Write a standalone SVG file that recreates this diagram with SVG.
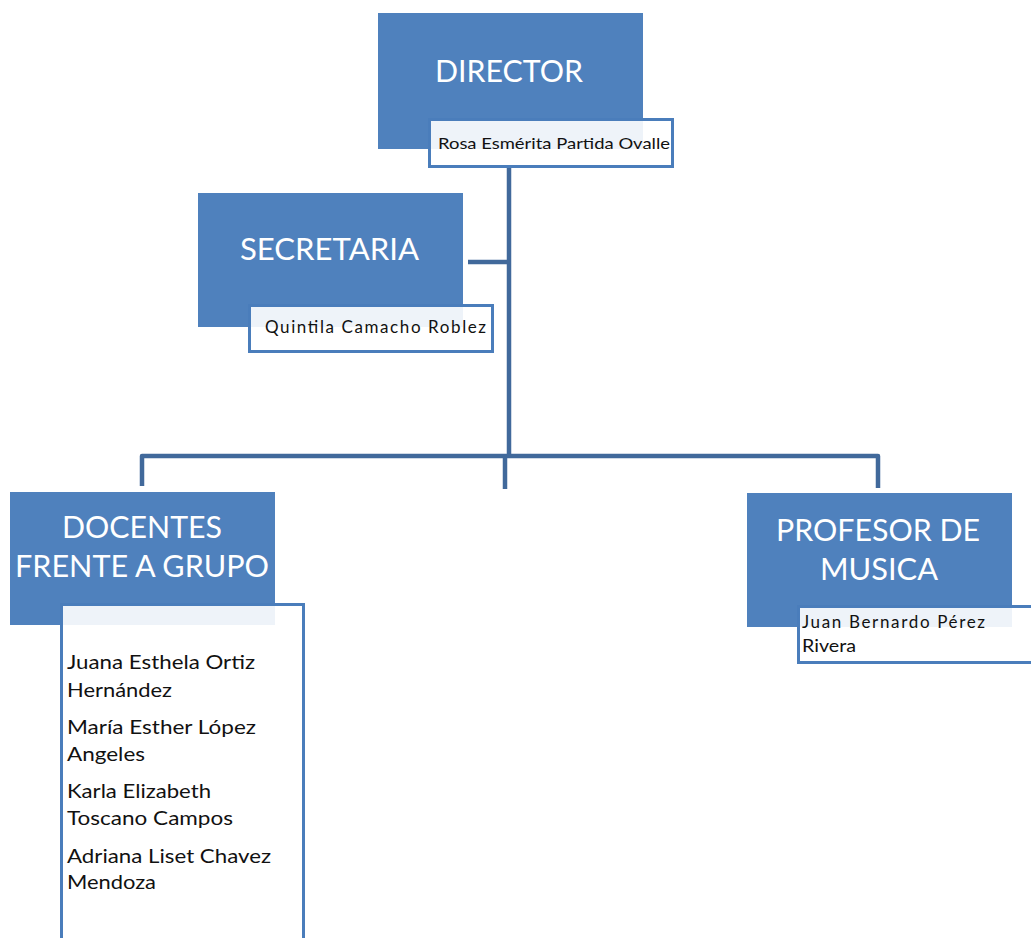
<svg xmlns="http://www.w3.org/2000/svg" width="1031" height="938" viewBox="0 0 1031 938">
<style>
.box{fill:#4f81bd;}
.sub{fill:#ffffff;fill-opacity:0.9;stroke:#4a7dbb;stroke-width:3;}
.title{font-family:Lato,"Open Sans",sans-serif;fill:#ffffff;font-size:31px;}
.name{font-family:Lato,"Open Sans",sans-serif;fill:#111111;}
.conn{fill:none;stroke:#41699b;stroke-width:4.5;stroke-linejoin:round;}
</style>
<rect width="1031" height="938" fill="#ffffff"/>
<g id="connectors">
<path class="conn" d="M509,167 V456"/>
<path class="conn" d="M468,262 H509"/>
<path class="conn" d="M142,486 V456 H878 V488"/>
<path class="conn" d="M505,456 V489"/>
</g>
<g id="director">
<rect class="box" x="378" y="13" width="265" height="136"/>
<text class="title" x="435" y="82" textLength="148" lengthAdjust="spacingAndGlyphs">DIRECTOR</text>
<rect class="sub" x="429.5" y="119.5" width="243" height="47"/>
<text class="name" x="438" y="149" font-size="15" textLength="232" lengthAdjust="spacingAndGlyphs">Rosa Esmérita Partida Ovalle</text>
</g>
<g id="secretaria">
<rect class="box" x="198" y="193" width="265" height="134"/>
<text class="title" x="240" y="260" textLength="179" lengthAdjust="spacingAndGlyphs">SECRETARIA</text>
<rect class="sub" x="249.5" y="305.5" width="243" height="46"/>
<text class="name" x="265" y="333" font-size="17" textLength="221" lengthAdjust="spacing">Quintila Camacho Roblez</text>
</g>
<g id="docentes">
<rect class="box" x="10" y="492" width="265" height="133"/>
<text class="title" x="62" y="538" textLength="160" lengthAdjust="spacingAndGlyphs">DOCENTES</text>
<text class="title" x="15" y="577" textLength="254" lengthAdjust="spacingAndGlyphs">FRENTE A GRUPO</text>
<rect class="sub" x="61.5" y="604.5" width="242" height="345"/>
<g class="name" font-size="20">
<text x="67" y="669" textLength="188" lengthAdjust="spacingAndGlyphs">Juana Esthela Ortiz</text>
<text x="67" y="697" textLength="105" lengthAdjust="spacingAndGlyphs">Hernández</text>
<text x="67" y="734" textLength="189" lengthAdjust="spacingAndGlyphs">María Esther López</text>
<text x="67" y="761" textLength="78" lengthAdjust="spacingAndGlyphs">Angeles</text>
<text x="67" y="798" textLength="144" lengthAdjust="spacingAndGlyphs">Karla Elizabeth</text>
<text x="67" y="825" textLength="166" lengthAdjust="spacingAndGlyphs">Toscano Campos</text>
<text x="67" y="863" textLength="204" lengthAdjust="spacingAndGlyphs">Adriana Liset Chavez</text>
<text x="67" y="889" textLength="89" lengthAdjust="spacingAndGlyphs">Mendoza</text>
</g>
</g>
<g id="profesor">
<rect class="box" x="747" y="493" width="265" height="134"/>
<text class="title" x="776" y="541" textLength="204" lengthAdjust="spacingAndGlyphs">PROFESOR DE</text>
<text class="title" x="820" y="580" textLength="118" lengthAdjust="spacingAndGlyphs">MUSICA</text>
<rect class="sub" x="798.5" y="606.5" width="260" height="56"/>
<text class="name" x="802" y="628" font-size="17" textLength="183" lengthAdjust="spacing">Juan Bernardo Pérez</text>
<text class="name" x="802" y="652" font-size="17" textLength="54" lengthAdjust="spacingAndGlyphs">Rivera</text>
</g>
</svg>
